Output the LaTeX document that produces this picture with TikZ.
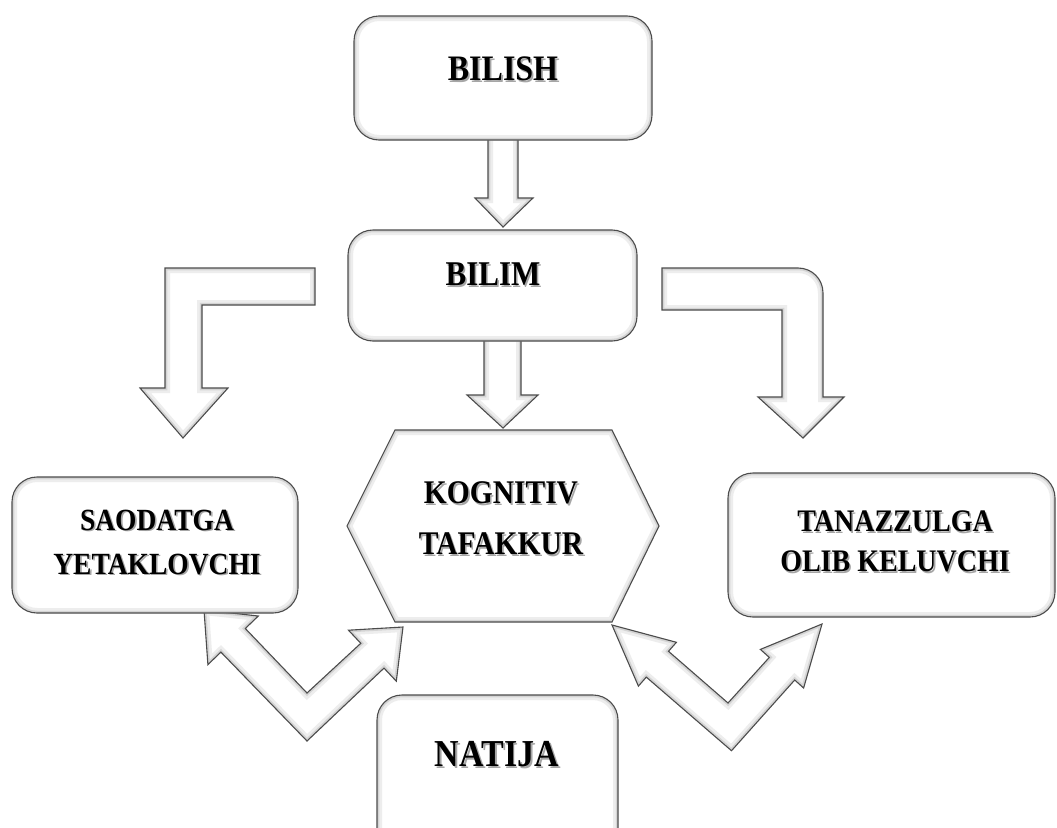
\documentclass[tikz,border=0pt]{standalone}
\usepackage{fontspec}
\setmainfont{Liberation Serif}
\newcommand\bev[1]{%
  \fill[white] #1;
  \begin{scope}
    \clip #1;
    \draw[line width=10pt, black!7] #1;
    \draw[line width=4.5pt, black!17] #1;
  \end{scope}
  \draw[black!70, line width=1.1pt] #1;}
\newcommand\shd[1]{\scalebox{1}[1.12]{\makebox[0pt][l]{\textcolor{black!35}{\hspace*{1.6pt}\raisebox{-1.6pt}{#1}}}#1}}
\tikzset{
  txt/.style={font=\bfseries, text=black, align=center, inner sep=0pt},
}
\begin{document}
\begin{tikzpicture}[x=1pt,y=-1pt]
\useasboundingbox (0,0) rectangle (1057,827);
\clip (0,0) rectangle (1057,827);
\fill[white] (0,0) rectangle (1057,827);

% ---- block arrows ----
% BILISH -> BILIM
\bev{(488,135) -- (518,135) -- (518,198) -- (533,198) -- (503,227) -- (475,198) -- (488,198) -- cycle}
% BILIM -> KOGNITIV
\bev{(484,336) -- (521,336) -- (521,395) -- (538,395) -- (503,428) -- (467,395) -- (484,395) -- cycle}
% left elbow
\bev{(315,268) -- (165,268) -- (165,388) -- (140,388) -- (183,438) -- (228,388) -- (202,388) -- (202,305) -- (315,305) -- cycle}
% right elbow
\bev{(662,268) -- (798,268) .. controls (812,268) and (823,279) .. (823,293) -- (823,397) -- (844,397) -- (803,438) -- (758,397) -- (782,397) -- (782,310) -- (662,310) -- cycle}
% left V double arrow
\bev{(204,610) -- (258.3,616) -- (245.3,628.5) -- (307,693) -- (360.8,643.3) -- (348.5,630.2) -- (403,627) -- (396.3,681.2) -- (384,668.1) -- (307,741) -- (220.9,652.1) -- (207.9,664.6) -- cycle}
% right V double arrow
\bev{(612,625) -- (676.4,642.3) -- (668.5,651.3) -- (728,703) -- (769.3,657.4) -- (760.4,649.4) -- (822,624) -- (803.6,688) -- (794.7,680) -- (731.5,750.7) -- (646.3,677.1) -- (638.4,686.1) -- cycle}

% ---- boxes ----
\bev{[rounded corners=25pt] (354,16) rectangle (652,140)}
\bev{[rounded corners=25pt] (348,230) rectangle (637,341)}
\bev{[rounded corners=25pt] (12,477) rectangle (298,613)}
\bev{[rounded corners=25pt] (728,473) rectangle (1055,617)}
\bev{[rounded corners=25pt] (377,695) rectangle (618,860)}
\bev{(395,430) -- (612,430) -- (659,526) -- (612,622) -- (395,622) -- (347,526) -- cycle}

% ---- texts ----
\node[txt, font=\bfseries\fontsize{32}{40}\selectfont] (bilish) at (503,70) {\shd{BILISH}};
\node[txt, font=\bfseries\fontsize{31}{40}\selectfont] (bilim) at (493,275) {\shd{BILIM}};
\node[txt, font=\bfseries\fontsize{29.5}{51}\selectfont] (kog) at (501,519.5) {\shd{KOGNITIV}\\\shd{TAFAKKUR}};
\node[txt, font=\bfseries\fontsize{27.5}{44}\selectfont] (saod) at (157,543) {\shd{SAODATGA}\\\shd{YETAKLOVCHI}};
\node[txt, font=\bfseries\fontsize{28}{40}\selectfont] (tanaz) at (895,542) {\shd{TANAZZULGA}\\\shd{OLIB KELUVCHI}};
\node[txt, font=\bfseries\fontsize{34}{40}\selectfont] (natija) at (497,755) {\shd{NATIJA}};
\end{tikzpicture}
\end{document}
